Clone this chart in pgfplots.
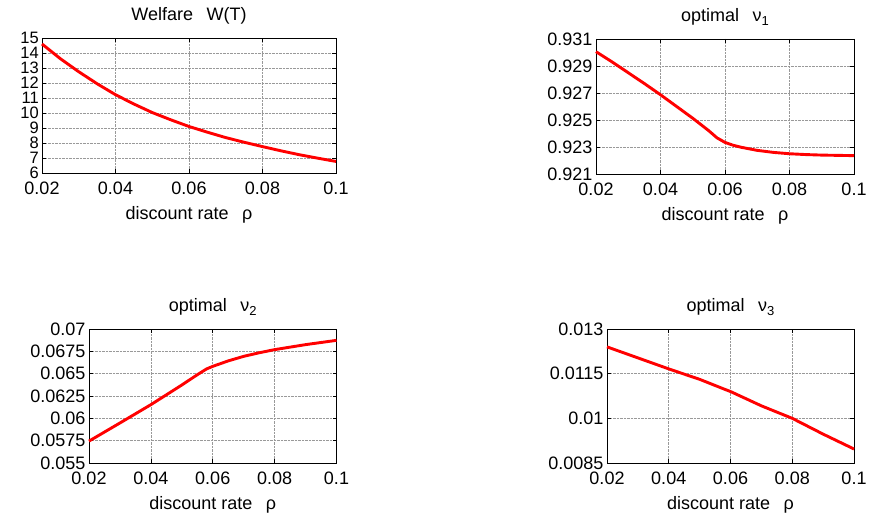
\documentclass[border=0pt]{standalone}
\usepackage{fontspec}
\setmainfont{Liberation Sans}
\usepackage{pgfplots}
\pgfplotsset{compat=1.18}
\newcommand{\fs}{\fontsize{18}{22}\selectfont}
\newcommand{\fss}{\fontsize{16.5}{18}\selectfont}
\newcommand{\sub}[1]{\raisebox{-0.35ex}{\fontsize{13}{13}\selectfont #1}}
\newcommand{\gap}{\hspace{0.75em}}
\pgfplotsset{
  gp/.style={
    scale only axis,
    xmin=0.02, xmax=0.1,
    xtick={0.02,0.04,0.06,0.08,0.1},
    xticklabels={0.02,0.04,0.06,0.08,0.1},
    scaled y ticks=false, scaled x ticks=false,
    grid=major,
    major grid style={densely dotted, gray!80, line width=0.6pt},
    tick pos=both,
    tick align=inside,
    major tick length=4pt,
    axis line style={black, line width=0.9pt},
    every tick/.style={black, line width=0.6pt},
    /pgf/number format/assume math mode=true,
    tick label style={font=\fs},
    label style={font=\fs},
    title style={font=\fs, yshift=4pt},
    xlabel={discount rate\gap ρ},
    xticklabel style={yshift=-8pt, inner ysep=1pt},
    xlabel style={yshift=-7pt},
    clip=false,
  },
  curve/.style={red, line width=2.9pt, line join=round},
}
\begin{document}
\begin{tikzpicture}
\useasboundingbox (0,0) rectangle (872pt,517pt);
% top-left
\begin{axis}[gp, at={(42pt,344pt)}, anchor=south west, width=294pt, height=135pt,
  ymin=6, ymax=15, ytick={6,7,8,9,10,11,12,13,14,15},
  yticklabel style={font=\fss, inner sep=1pt, xshift=-2pt},
  title={Welfare\gap W(T)}]
\addplot[curve] coordinates {
(0.02,14.6) (0.025,13.62) (0.03,12.75) (0.035,11.95) (0.04,11.22) (0.045,10.6)
(0.05,10.03) (0.055,9.55) (0.06,9.1) (0.065,8.72) (0.07,8.36) (0.075,8.05)
(0.08,7.76) (0.085,7.48) (0.09,7.22) (0.095,6.99) (0.1,6.77)};
\end{axis}
% top-right
\begin{axis}[gp, at={(596pt,343pt)}, anchor=south west, width=258pt, height=135pt,
  ymin=0.921, ymax=0.931, ytick={0.921,0.923,0.925,0.927,0.929,0.931},
  yticklabels={0.921,0.923,0.925,0.927,0.929,0.931},
  title={optimal\gap ν\sub{1}}]
\addplot[curve] coordinates {
(0.02,0.93006) (0.025,0.92930) (0.03,0.92850) (0.035,0.92770) (0.04,0.92687)
(0.045,0.92600) (0.05,0.92513) (0.055,0.92420) (0.0575,0.92368) (0.06,0.92334)
(0.0625,0.92313) (0.065,0.92298) (0.07,0.92275) (0.075,0.92260) (0.08,0.92250)
(0.085,0.92244) (0.09,0.92240) (0.1,0.92236)};
\end{axis}
% bottom-left
\begin{axis}[gp, at={(89pt,54pt)}, anchor=south west, width=247.5pt, height=134pt,
  ymin=0.055, ymax=0.07, ytick={0.055,0.0575,0.06,0.0625,0.065,0.0675,0.07},
  yticklabels={0.055,0.0575,0.06,0.0625,0.065,0.0675,0.07},
  title={optimal\gap ν\sub{2}}]
\addplot[curve] coordinates {
(0.02,0.05745) (0.03,0.05948) (0.04,0.06153) (0.05,0.06373) (0.055,0.06488)
(0.058,0.06553) (0.06,0.06582) (0.065,0.06643) (0.07,0.06694) (0.075,0.06734)
(0.08,0.06769) (0.09,0.06825) (0.1,0.06873)};
\end{axis}
% bottom-right
\begin{axis}[gp, at={(607pt,54pt)}, anchor=south west, width=247pt, height=134pt,
  ymin=0.0085, ymax=0.013, ytick={0.0085,0.01,0.0115,0.013},
  yticklabels={0.0085,0.01,0.0115,0.013},
  title={optimal\gap ν\sub{3}}]
\addplot[curve] coordinates {
(0.02,0.0124) (0.03,0.01203) (0.04,0.01166) (0.05,0.01131) (0.058,0.01098)
(0.06,0.0109) (0.07,0.01042) (0.08,0.01000) (0.09,0.00947) (0.1,0.00897)};
\end{axis}
\end{tikzpicture}
\end{document}
